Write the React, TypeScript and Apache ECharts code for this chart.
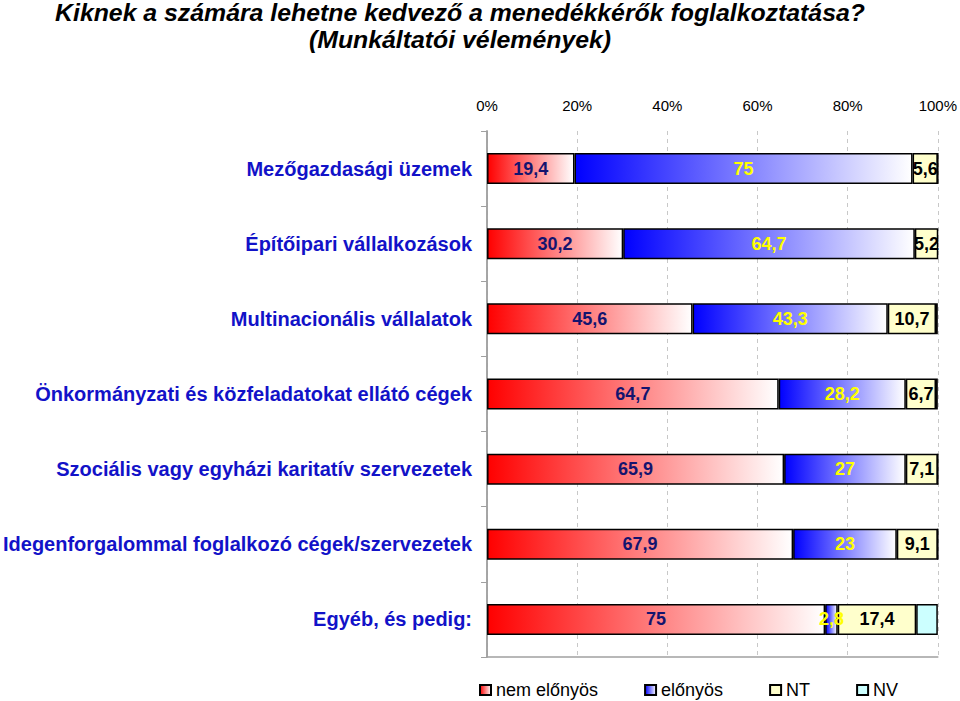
import React, { useEffect, useRef } from "react";
import * as echarts from "echarts";

const categories = [
  "Mezőgazdasági üzemek",
  "Építőipari vállalkozások",
  "Multinacionális vállalatok",
  "Önkormányzati és közfeladatokat ellátó cégek",
  "Szociális vagy egyházi karitatív szervezetek",
  "Idegenforgalommal foglalkozó cégek/szervezetek",
  "Egyéb, és pedig:",
];
const nemElonyos = [19.4, 30.2, 45.6, 64.7, 65.9, 67.9, 75];
const elonyos = [75, 64.7, 43.3, 28.2, 27, 23, 2.8];
const nt = [5.6, 5.2, 10.7, 6.7, 7.1, 9.1, 17.4];
const nv = [0, 0, 0.4, 0.4, 0, 0, 4.8];
const xTicks = ["0%", "20%", "40%", "60%", "80%", "100%"];

const titleLine1 = "Kiknek a számára lehetne kedvező a menedékkérők foglalkoztatása?";
const titleLine2 = "(Munkáltatói vélemények)";

const fmt = (p: any) => String(p.value).replace(".", ",");

export default function App() {
  const ref = useRef<HTMLDivElement>(null);
  useEffect(() => {
    if (!ref.current) return;
    const chart = echarts.init(ref.current, null, { renderer: "svg" });
    const grad = (c: string, end: string) =>
      new echarts.graphic.LinearGradient(0, 0, 1, 0, [
        { offset: 0, color: c },
        { offset: 1, color: end },
      ]);
    const labelBase = {
      show: true,
      position: "inside" as const,
      fontFamily: "Liberation Sans, Arial, sans-serif",
      fontWeight: "bold" as const,
      fontSize: 18,
      formatter: fmt,
    };
    const border = { borderColor: "#000", borderWidth: 1.5 };
    const titleFont = "italic bold 23px 'Liberation Sans', Arial, sans-serif";
    chart.setOption({
      animation: false,
      backgroundColor: "#fff",
      graphic: [
        {
          type: "text",
          x: 460,
          y: 1,
          scaleX: 1.08,
          style: { text: titleLine1, font: titleFont, fill: "#000", textAlign: "center" },
        },
        {
          type: "text",
          x: 460,
          y: 28,
          scaleX: 1.08,
          style: { text: titleLine2, font: titleFont, fill: "#000", textAlign: "center" },
        },
      ],
      legend: {
        left: 479,
        top: 681,
        padding: 0,
        icon: "rect",
        itemWidth: 11,
        itemHeight: 10,
        itemGap: 46,
        textStyle: {
          fontFamily: "Liberation Sans, Arial, sans-serif",
          fontSize: 18,
          lineHeight: 18,
          color: "#000",
        },
        data: ["nem előnyös", "előnyös", "NT", "NV"],
      },
      grid: { left: 484, right: 22, top: 131, bottom: 44, containLabel: false },
      xAxis: [
        {
          type: "value",
          position: "top",
          min: 0,
          max: 100,
          interval: 20,
          axisLine: { show: false },
          axisTick: { show: false },
          axisLabel: {
            formatter: (v: number) => xTicks[Math.round(v / 20)],
            fontFamily: "Liberation Sans, Arial, sans-serif",
            fontSize: 15,
            color: "#000",
            margin: 18,
          },
          splitLine: { show: true, lineStyle: { color: "#c8c8c8", type: [4, 4], width: 1 } },
        },
        {
          type: "value",
          position: "bottom",
          min: 0,
          max: 100,
          interval: 20,
          axisLine: { show: true, lineStyle: { color: "#a0a0a0", width: 1.5 } },
          axisTick: { show: false },
          axisLabel: { show: false },
          splitLine: { show: false },
        },
      ],
      yAxis: [
        {
          type: "category",
          data: categories,
          inverse: true,
          axisLine: { show: true, lineStyle: { color: "#a0a0a0", width: 1.5 } },
          axisTick: { show: true, length: 6, lineStyle: { color: "#a0a0a0" } },
          axisLabel: {
            fontFamily: "Liberation Sans, Arial, sans-serif",
            fontWeight: "bold",
            fontSize: 20,
            color: "#1212c8",
            margin: 15,
          },
        },
        {
          type: "category",
          data: categories,
          inverse: true,
          position: "right",
          axisLine: { show: true, lineStyle: { color: "#a0a0a0", width: 1.5 } },
          axisTick: { show: false },
          axisLabel: { show: false },
        },
      ],
      series: [
        {
          name: "nem előnyös",
          type: "bar",
          stack: "t",
          barWidth: 31,
          data: nemElonyos,
          itemStyle: { color: grad("#ff0000", "#ffffff"), ...border },
          label: { ...labelBase, color: "#14146e" },
        },
        {
          name: "előnyös",
          type: "bar",
          stack: "t",
          data: elonyos,
          itemStyle: { color: grad("#0000ff", "#ffffff"), ...border },
          label: { ...labelBase, color: "#ffff00" },
        },
        {
          name: "NT",
          type: "bar",
          stack: "t",
          data: nt,
          itemStyle: { color: "#ffffcc", ...border },
          label: { ...labelBase, color: "#000" },
        },
        {
          name: "NV",
          type: "bar",
          stack: "t",
          data: nv,
          itemStyle: { color: "#ccffff", ...border },
          label: { show: false },
        },
      ],
    });
    return () => chart.dispose();
  }, []);
  return (
    <div
      ref={ref}
      style={{ position: "fixed", left: 0, top: 0, width: 960, height: 701 }}
    />
  );
}
